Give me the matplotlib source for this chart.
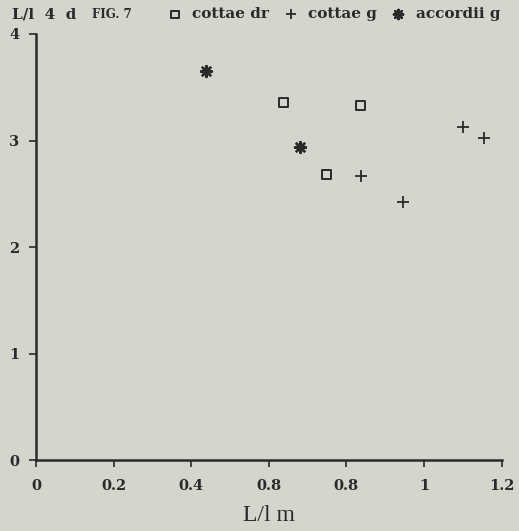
import matplotlib
matplotlib.use("Agg")
import matplotlib.pyplot as plt

# data
cottae_dr_x = [0.638, 0.837, 0.748]
cottae_dr_y = [3.36, 3.33, 2.68]
cottae_g_x = [0.837, 0.946, 1.101, 1.154]
cottae_g_y = [2.67, 2.42, 3.13, 3.02]
accordii_g_x = [0.439, 0.681]
accordii_g_y = [3.65, 2.94]

xticks = [0, 0.2, 0.4, 0.6, 0.8, 1, 1.2]
xtick_labels = ["0", "0.2", "0.4", "0.8", "0.8", "1", "1.2"]
yticks = [0, 1, 2, 3, 4]

bg = "#d4d5cc"
ink = "#2a2a2a"

fig = plt.figure(figsize=(5.19, 5.31), dpi=100, facecolor=bg)
ax = fig.add_axes([0.0694, 0.1328, 0.8969, 0.8032], facecolor=bg)

ax.scatter(cottae_dr_x, cottae_dr_y, marker="s", s=42, facecolors="none",
           edgecolors=ink, linewidths=1.4, label="cottae dr")
ax.scatter(cottae_g_x, cottae_g_y, marker="+", s=80, color=ink,
           linewidths=1.3, label="cottae g")
ax.scatter(accordii_g_x, accordii_g_y, marker=(8, 2, 0), s=60, color=ink,
           linewidths=1.8, label="accordii g")

ax.set_xlim(0, 1.2)
ax.set_ylim(0, 4)
ax.set_xticks(xticks)
ax.set_xticklabels(xtick_labels)
ax.set_yticks(yticks)

for s in ["top", "right"]:
    ax.spines[s].set_visible(False)
for s in ["left", "bottom"]:
    ax.spines[s].set_color(ink)
    ax.spines[s].set_linewidth(1.8)

ax.tick_params(direction="out", length=5, width=1.2, color=ink, pad=8,
               labelsize=10.5, labelcolor=ink)
for lab in ax.get_xticklabels() + ax.get_yticklabels():
    lab.set_fontfamily("DejaVu Serif")
    lab.set_fontweight("bold")
ax.tick_params(axis="y", pad=7)

ax.set_xlabel("L/l m", fontsize=17, fontfamily="Liberation Serif",
              color=ink, labelpad=9)

fig.text(0.023, 0.973, "L/l  4  d", fontsize=11, fontweight="bold",
         fontfamily="DejaVu Serif", color=ink, va="center")
fig.text(0.177, 0.973, "FIG. 7", fontsize=8.5, fontweight="bold",
         fontfamily="DejaVu Serif", color=ink, va="center")

ax.legend(loc="center left", bbox_to_anchor=(0.322, 0.973),
          bbox_transform=fig.transFigure, ncol=3, frameon=False,
          handletextpad=0.65, columnspacing=0.9, handlelength=1.0,
          borderaxespad=0, borderpad=0, markerscale=0.85,
          prop={"family": "DejaVu Serif", "weight": "bold", "size": 11},
          labelcolor=ink)

fig.savefig("out.png", dpi=100, facecolor=bg)
